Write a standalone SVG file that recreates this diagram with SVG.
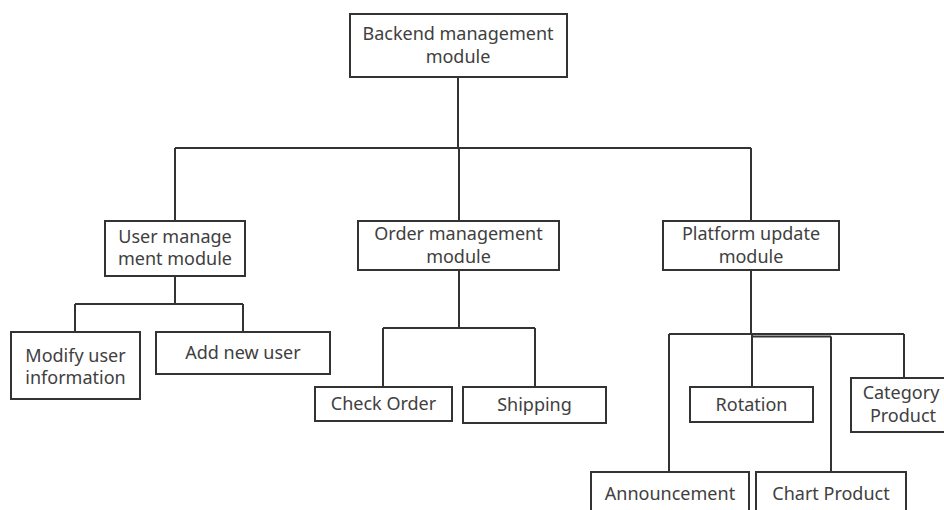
<svg xmlns="http://www.w3.org/2000/svg" width="944" height="510" viewBox="0 0 944 510">
  <style>
    .box { fill: #ffffff; stroke: #333333; stroke-width: 2; }
    .lbl { font-family: "Noto Sans", "Open Sans", sans-serif; font-size: 18px; fill: #404040; text-anchor: middle; }
    .wire { fill: none; stroke: #333333; stroke-width: 2; }
  </style>
  <rect width="944" height="510" fill="#ffffff"/>

  <!-- connectors -->
  <g id="connectors">
    <path class="wire" d="M458 77 V148 M175 148 H751 M175 148 V221 M459 148 V221 M751 148 V221"/>
    <path class="wire" d="M175 276 V304 M75 304 H243 M75 304 V332 M243 304 V332"/>
    <path class="wire" d="M459 270 V328 M383 328 H535 M383 328 V387 M535 328 V387"/>
    <path class="wire" d="M751 270 V334 M669 334 H904 M669 334 V472 M752 334 V387 M904 334 V378 M752 336.5 H831 M831 336.5 V472"/>
  </g>

  <g id="backend">
    <rect class="box" x="350" y="14" width="217" height="63"/>
    <text class="lbl" x="458" y="40">Backend management</text>
    <text class="lbl" x="458" y="63">module</text>
  </g>

  <g id="user-mgmt">
    <rect class="box" x="105" y="221" width="140" height="55"/>
    <text class="lbl" x="175" y="243">User manage</text>
    <text class="lbl" x="175" y="265">ment module</text>
  </g>

  <g id="order-mgmt">
    <rect class="box" x="358" y="221" width="201" height="49"/>
    <text class="lbl" x="458.5" y="240">Order management</text>
    <text class="lbl" x="458.5" y="263">module</text>
  </g>

  <g id="platform-update">
    <rect class="box" x="663" y="221" width="176" height="49"/>
    <text class="lbl" x="751" y="240">Platform update</text>
    <text class="lbl" x="751" y="263">module</text>
  </g>

  <g id="modify-user">
    <rect class="box" x="11" y="332" width="129" height="67"/>
    <text class="lbl" x="75.5" y="362">Modify user</text>
    <text class="lbl" x="75.5" y="384">information</text>
  </g>

  <g id="add-user">
    <rect class="box" x="156" y="332" width="174" height="42"/>
    <text class="lbl" x="243" y="359">Add new user</text>
  </g>

  <g id="check-order">
    <rect class="box" x="315" y="387" width="137" height="34"/>
    <text class="lbl" x="383.5" y="410">Check Order</text>
  </g>

  <g id="shipping">
    <rect class="box" x="463" y="387" width="143" height="36"/>
    <text class="lbl" x="534.5" y="411">Shipping</text>
  </g>

  <g id="rotation">
    <rect class="box" x="690" y="387" width="123" height="35"/>
    <text class="lbl" x="751.5" y="411">Rotation</text>
  </g>

  <g id="category-product">
    <rect class="box" x="851" y="378" width="100" height="54"/>
    <text class="lbl" x="901" y="399">Category</text>
    <text class="lbl" x="903" y="422">Product</text>
  </g>

  <g id="announcement">
    <rect class="box" x="591" y="472" width="158" height="50"/>
    <text class="lbl" x="670" y="500">Announcement</text>
  </g>

  <g id="chart-product">
    <rect class="box" x="756" y="472" width="150" height="50"/>
    <text class="lbl" x="831" y="500">Chart Product</text>
  </g>
</svg>
